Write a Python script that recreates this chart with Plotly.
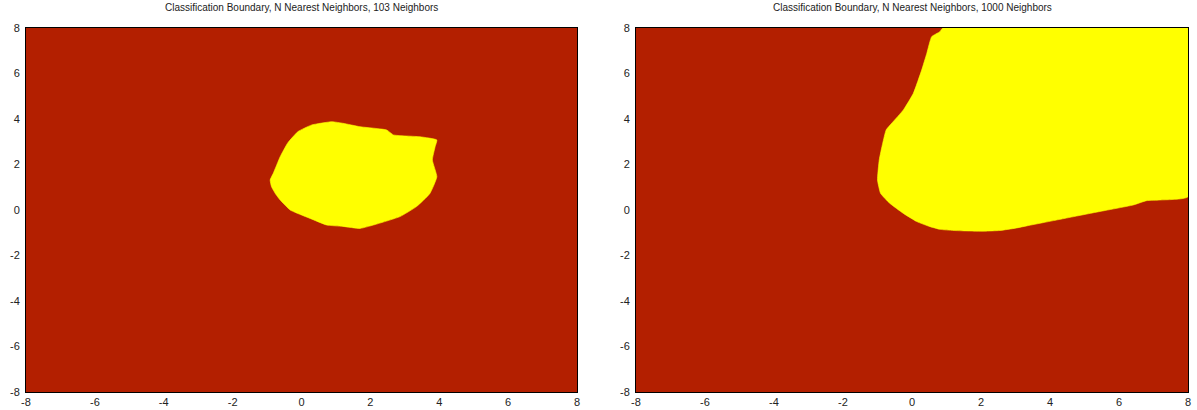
import plotly.graph_objects as go

# Decision regions (class 1 = yellow) outlined by boundary vertices, per panel
titles = [
    "Classification Boundary, N Nearest Neighbors, 103 Neighbors",
    "Classification Boundary, N Nearest Neighbors, 1000 Neighbors",
]

k103_x = [-0.91, -0.87, -0.75, -0.62, -0.33, 0.00, 0.25, 0.73, 1.20, 1.70, 2.18,
          2.86, 3.34, 3.73, 3.93, 3.80, 3.88, 3.93, 3.44, 2.67, 2.47, 1.70,
          1.21, 0.88, 0.30, -0.10, -0.40, -0.62, -0.82]
k103_y = [1.32, 1.02, 0.70, 0.44, 0.00, -0.22, -0.37, -0.66, -0.72, -0.81, -0.62,
          -0.29, 0.15, 0.73, 1.46, 2.20, 2.78, 3.08, 3.22, 3.30, 3.52, 3.66,
          3.81, 3.88, 3.74, 3.45, 2.95, 2.34, 1.61]

k1000_x = [0.89, 0.81, 0.57, 0.43, 0.28, 0.04, -0.25, -0.59, -0.75, -0.85, -0.95,
           -1.00, -0.91, -0.64, -0.25, 0.14, 0.50, 0.81, 1.20, 1.58, 2.10, 2.55,
           3.00, 3.32, 4.29, 5.26, 6.41, 6.80, 7.19, 8.00, 8.00]
k1000_y = [8.00, 7.84, 7.62, 6.89, 6.15, 5.13, 4.40, 3.81, 3.52, 2.93, 2.20,
           1.32, 0.73, 0.29, -0.15, -0.51, -0.72, -0.85, -0.90, -0.92, -0.93, -0.90,
           -0.80, -0.70, -0.41, -0.12, 0.22, 0.41, 0.44, 0.58, 8.00]

tick_vals = [-8, -6, -4, -2, 0, 2, 4, 6, 8]
tick_text = ["-8", "-6", "-4", "-2", "0", "2", "4", "6", "8"]
axis_range = [-8, 8]

RED = "#b31f00"
YELLOW = "#ffff00"

fig = go.Figure()

regions = [(k103_x, k103_y), (k1000_x, k1000_y)]
for i, (xs, ys) in enumerate(regions):
    sfx = "" if i == 0 else "2"
    fig.add_trace(go.Scatter(
        x=xs + [xs[0]], y=ys + [ys[0]],
        mode="lines", fill="toself", fillcolor=YELLOW,
        line=dict(width=0.6, color=YELLOW, shape="spline", smoothing=0.4),
        xaxis="x" + sfx, yaxis="y" + sfx,
        hoverinfo="skip", showlegend=False,
    ))

domains = [[0.0, 551 / 1162], [610 / 1162, 1.0]]
axis_common = dict(
    range=axis_range, tickvals=tick_vals, ticktext=tick_text,
    showgrid=False, zeroline=False, automargin=False,
    showline=True, mirror=True, linecolor="black", linewidth=1,
    ticks="", tickfont=dict(family="Liberation Sans, Arial", size=11, color="#222"),
)

fig.update_layout(
    width=1197, height=410,
    margin=dict(l=26, r=9, t=28, b=18),
    paper_bgcolor="white", plot_bgcolor=RED,
    xaxis=dict(domain=domains[0], anchor="y", ticklabelstandoff=0, **axis_common),
    yaxis=dict(domain=[0, 1], anchor="x", ticklabelstandoff=3, **axis_common),
    xaxis2=dict(domain=domains[1], anchor="y2", ticklabelstandoff=0, **axis_common),
    yaxis2=dict(domain=[0, 1], anchor="x2", ticklabelstandoff=3, **axis_common),
)

for i, t in enumerate(titles):
    fig.add_annotation(
        text=t, xref="paper", yref="paper",
        x=(domains[i][0] + domains[i][1]) / 2, y=1 + 20 / 364,
        xanchor="center", yanchor="middle", showarrow=False,
        font=dict(family="Liberation Sans, Arial", size=10, color="#222"),
    )

fig.write_html("out.html")
